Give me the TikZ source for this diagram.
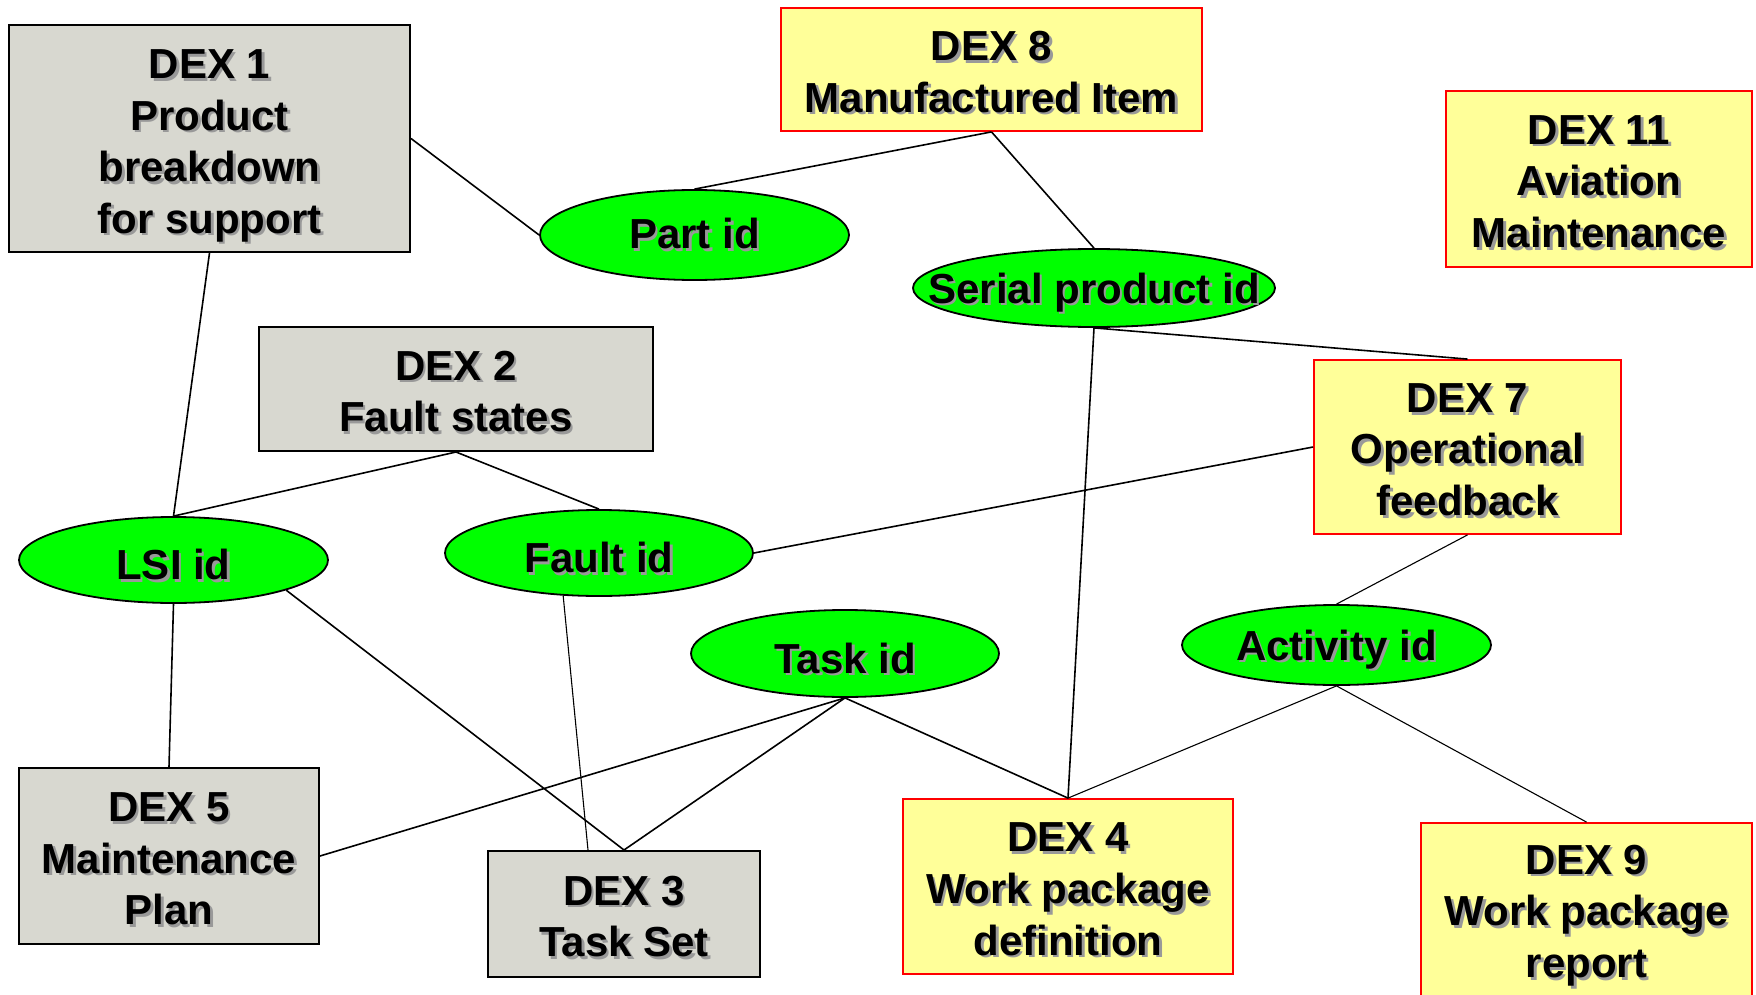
\documentclass[tikz,border=0pt]{standalone}
\usepackage{fontspec}
\setmainfont{Liberation Sans}
\usetikzlibrary{shapes.geometric}
\definecolor{grayfill}{RGB}{216,216,208}
\definecolor{yellowfill}{RGB}{255,255,153}
\definecolor{greenfill}{RGB}{0,255,0}
\newcommand\stx[1]{\rlap{\kern1.3pt\raisebox{-1.3pt}{\color{black!40}#1}}#1}
\newcommand\bstrut{\rule{0pt}{18.5pt}}
\newcommand\estrut{\rule{0pt}{21pt}}
\begin{document}
\begin{tikzpicture}[x=0.5pt,y=-0.5pt,
  every node/.style={font=\fontsize{21}{25.8}\selectfont\bfseries, align=center, inner sep=0pt},
  gbox/.style={rectangle, draw=black, fill=grayfill, line width=1pt},
  ybox/.style={rectangle, draw=red, fill=yellowfill, line width=0.9pt},
  idell/.style={ellipse, draw=black, fill=greenfill, line width=0.9pt},
  conn/.style={draw=black, line width=0.8pt},
  thin/.style={draw=black, line width=0.55pt}]
\useasboundingbox (0,0) rectangle (1756,995);
\clip (0,0) rectangle (1756,995);
\fill[white] (0,0) rectangle (1756,995);

% boxes
\node[gbox, minimum width=200.5pt, minimum height=113.5pt] (dex1) at (209.5,138.5)
  {\rule{0pt}{23pt}\stx{DEX 1}\\\stx{Product}\\\stx{breakdown}\\\stx{for support}};
\node[ybox, minimum width=210.5pt, minimum height=61.5pt] (dex8) at (991.5,69.5)
  {\bstrut\stx{DEX 8}\\\stx{Manufactured Item}};
\node[ybox, minimum width=153pt, minimum height=88pt] (dex11) at (1599,179)
  {\bstrut\stx{DEX 11}\\\stx{Aviation}\\\stx{Maintenance}};
\node[gbox, minimum width=197pt, minimum height=62pt] (dex2) at (456,389)
  {\bstrut\stx{DEX 2}\\\stx{Fault states}};
\node[ybox, minimum width=153.5pt, minimum height=87pt] (dex7) at (1467.5,447)
  {\bstrut\stx{DEX 7}\\\stx{Operational}\\\stx{feedback}};
\node[gbox, minimum width=150pt, minimum height=88pt] (dex5) at (169,856)
  {\bstrut\stx{DEX 5}\\\stx{Maintenance}\\\stx{Plan}};
\node[gbox, minimum width=136pt, minimum height=63pt] (dex3) at (624,914)
  {\bstrut\stx{DEX 3}\\\stx{Task Set}};
\node[ybox, minimum width=165pt, minimum height=87.5pt] (dex4) at (1068,886.5)
  {\bstrut\stx{DEX 4}\\\stx{Work package}\\\stx{definition}};
\node[ybox, minimum width=165.5pt, minimum height=90pt] (dex9) at (1586.5,913)
  {\bstrut\stx{DEX 9}\\\stx{Work package}\\\stx{report}};

% ellipses
\node[idell, minimum width=154.5pt, minimum height=45pt] (part) at (694.5,235) {\stx{Part id}};
\node[idell, minimum width=181pt, minimum height=39pt] (serial) at (1094,288) {\makebox[0pt]{\estrut\stx{Serial product id}}};
\node[idell, minimum width=154.5pt, minimum height=43pt] (lsi) at (173.5,560) {\estrut\stx{LSI id}};
\node[idell, minimum width=154pt, minimum height=43pt] (fault) at (599,553) {\estrut\stx{Fault id}};
\node[idell, minimum width=154pt, minimum height=43.5pt] (task) at (845,653.5) {\estrut\stx{Task id}};
\node[idell, minimum width=154.5pt, minimum height=40pt] (activity) at (1336.5,645) {\estrut\stx{Activity id}};

% connectors
\draw[conn] (dex1.east) -- (part.west);
\draw[conn] (dex8.south) -- (part.north);
\draw[conn] (dex8.south) -- (serial.north);
\draw[conn] (dex1.south) -- (lsi.north);
\draw[conn] (dex2.south) -- (lsi.north);
\draw[conn] (dex2.south) -- (fault.north);
\draw[conn] (serial.south) -- (dex7.north);
\draw[conn] (serial.south) -- (dex4.north);
\draw[conn] (dex7.west) -- (fault.east);
\draw[thin] (dex7.south) -- (activity.north);
\draw[conn] (lsi.south) -- (dex5.north);
\draw[conn] (lsi.-15) -- (dex3.north);
\draw[thin] (fault.230) -- ([xshift=-18pt]dex3.north);
\draw[conn] (task.south) -- (dex5.east);
\draw[conn] (task.south) -- (dex3.north);
\draw[conn] (task.south) -- (dex4.north);
\draw[thin] (activity.south) -- (dex4.north);
\draw[thin] (activity.south) -- (dex9.north);
\end{tikzpicture}
\end{document}
